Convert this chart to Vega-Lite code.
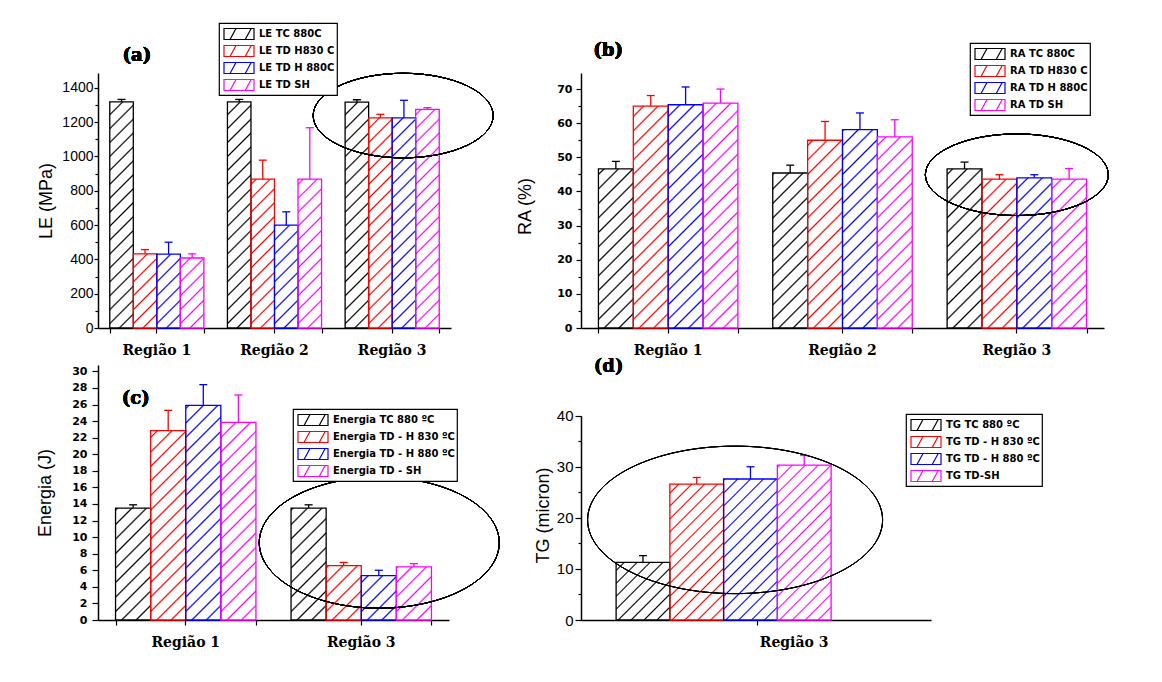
{
"$schema": "https://vega.github.io/schema/vega-lite/v6.json",
"background": "white",
"padding": {"left": 36, "top": 22, "right": 5, "bottom": 5},
"params": [{"name": "hs", "value": [
{"offset":0,"color":"rgba(255,255,255,0)"},{"offset":0.006,"color":"#ffffff"},{"offset":0.044,"color":"#ffffff"},
{"offset":0.05,"color":"rgba(255,255,255,0)"},{"offset":0.056,"color":"#ffffff"},{"offset":0.094,"color":"#ffffff"},
{"offset":0.1,"color":"rgba(255,255,255,0)"},{"offset":0.106,"color":"#ffffff"},{"offset":0.144,"color":"#ffffff"},
{"offset":0.15,"color":"rgba(255,255,255,0)"},{"offset":0.156,"color":"#ffffff"},{"offset":0.194,"color":"#ffffff"},
{"offset":0.2,"color":"rgba(255,255,255,0)"},{"offset":0.206,"color":"#ffffff"},{"offset":0.244,"color":"#ffffff"},
{"offset":0.25,"color":"rgba(255,255,255,0)"},{"offset":0.256,"color":"#ffffff"},{"offset":0.294,"color":"#ffffff"},
{"offset":0.3,"color":"rgba(255,255,255,0)"},{"offset":0.306,"color":"#ffffff"},{"offset":0.344,"color":"#ffffff"},
{"offset":0.35,"color":"rgba(255,255,255,0)"},{"offset":0.356,"color":"#ffffff"},{"offset":0.394,"color":"#ffffff"},
{"offset":0.4,"color":"rgba(255,255,255,0)"},{"offset":0.406,"color":"#ffffff"},{"offset":0.444,"color":"#ffffff"},
{"offset":0.45,"color":"rgba(255,255,255,0)"},{"offset":0.456,"color":"#ffffff"},{"offset":0.494,"color":"#ffffff"},
{"offset":0.5,"color":"rgba(255,255,255,0)"},{"offset":0.506,"color":"#ffffff"},{"offset":0.544,"color":"#ffffff"},
{"offset":0.55,"color":"rgba(255,255,255,0)"},{"offset":0.556,"color":"#ffffff"},{"offset":0.594,"color":"#ffffff"},
{"offset":0.6,"color":"rgba(255,255,255,0)"},{"offset":0.606,"color":"#ffffff"},{"offset":0.644,"color":"#ffffff"},
{"offset":0.65,"color":"rgba(255,255,255,0)"},{"offset":0.656,"color":"#ffffff"},{"offset":0.694,"color":"#ffffff"},
{"offset":0.7,"color":"rgba(255,255,255,0)"},{"offset":0.706,"color":"#ffffff"},{"offset":0.744,"color":"#ffffff"},
{"offset":0.75,"color":"rgba(255,255,255,0)"},{"offset":0.756,"color":"#ffffff"},{"offset":0.794,"color":"#ffffff"},
{"offset":0.8,"color":"rgba(255,255,255,0)"},{"offset":0.806,"color":"#ffffff"},{"offset":0.844,"color":"#ffffff"},
{"offset":0.85,"color":"rgba(255,255,255,0)"},{"offset":0.856,"color":"#ffffff"},{"offset":0.894,"color":"#ffffff"},
{"offset":0.9,"color":"rgba(255,255,255,0)"},{"offset":0.906,"color":"#ffffff"},{"offset":0.944,"color":"#ffffff"},
{"offset":0.95,"color":"rgba(255,255,255,0)"},{"offset":0.956,"color":"#ffffff"},{"offset":0.994,"color":"#ffffff"},
{"offset":1,"color":"rgba(255,255,255,0)"}
]}],
"datasets": {
"a": [
{"r":"Região 1","s":"LE TC 880C","v":1318,"hi":1332},
{"r":"Região 1","s":"LE TD H830 C","v":432,"hi":457},
{"r":"Região 1","s":"LE TD H 880C","v":430,"hi":500},
{"r":"Região 1","s":"LE TD SH","v":408,"hi":432},
{"r":"Região 2","s":"LE TC 880C","v":1318,"hi":1332},
{"r":"Região 2","s":"LE TD H830 C","v":867,"hi":978},
{"r":"Região 2","s":"LE TD H 880C","v":599,"hi":677},
{"r":"Região 2","s":"LE TD SH","v":867,"hi":1167},
{"r":"Região 3","s":"LE TC 880C","v":1316,"hi":1330},
{"r":"Região 3","s":"LE TD H830 C","v":1225,"hi":1245},
{"r":"Região 3","s":"LE TD H 880C","v":1225,"hi":1327},
{"r":"Região 3","s":"LE TD SH","v":1274,"hi":1284}
],
"b": [
{"r":"Região 1","s":"RA TC 880C","v":46.6,"hi":48.8},
{"r":"Região 1","s":"RA TD H830 C","v":65.0,"hi":68.1},
{"r":"Região 1","s":"RA TD H 880C","v":65.4,"hi":70.6},
{"r":"Região 1","s":"RA TD SH","v":65.9,"hi":70.0},
{"r":"Região 2","s":"RA TC 880C","v":45.4,"hi":47.7},
{"r":"Região 2","s":"RA TD H830 C","v":55.0,"hi":60.5},
{"r":"Região 2","s":"RA TD H 880C","v":58.1,"hi":63.0},
{"r":"Região 2","s":"RA TD SH","v":56.0,"hi":61.0},
{"r":"Região 3","s":"RA TC 880C","v":46.6,"hi":48.6},
{"r":"Região 3","s":"RA TD H830 C","v":43.6,"hi":44.9},
{"r":"Região 3","s":"RA TD H 880C","v":44.0,"hi":44.9},
{"r":"Região 3","s":"RA TD SH","v":43.6,"hi":46.7}
],
"c": [
{"r":"Região 1","s":"Energia TC 880 ºC","v":13.5,"hi":13.9},
{"r":"Região 1","s":"Energia TD - H 830 ºC","v":22.85,"hi":25.3},
{"r":"Região 1","s":"Energia TD - H 880 ºC","v":25.9,"hi":28.4},
{"r":"Região 1","s":"Energia TD - SH","v":23.85,"hi":27.15},
{"r":"Região 3","s":"Energia TC 880 ºC","v":13.5,"hi":13.9},
{"r":"Região 3","s":"Energia TD - H 830 ºC","v":6.55,"hi":6.95},
{"r":"Região 3","s":"Energia TD - H 880 ºC","v":5.35,"hi":6.0},
{"r":"Região 3","s":"Energia TD - SH","v":6.4,"hi":6.8}
],
"d": [
{"r":"Região 3","s":"TG TC 880 ºC","v":11.3,"hi":12.6},
{"r":"Região 3","s":"TG TD - H 830 ºC","v":26.6,"hi":27.9},
{"r":"Região 3","s":"TG TD - H 880 ºC","v":27.6,"hi":30.0},
{"r":"Região 3","s":"TG TD-SH","v":30.3,"hi":32.2}
]
},
"config": {
"view": {"stroke": null},
"axis": {"domainColor": "black", "domainWidth": 1.5, "tickColor": "black", "tickWidth": 1.2, "labelColor": "black", "titleColor": "black", "grid": false, "zindex": 1},
"legend": {"title": null, "orient": "none", "symbolSize": 256, "symbolStrokeWidth": 1.2, "symbolFillColor": "white", "symbolType": "M-0.75,-0.69H3V0.69H-0.75Z M0,0.69L0.75,-0.69 M1.9,0.69L2.65,-0.69", "labelFont": "DejaVu Sans", "labelFontSize": 10, "labelFontWeight": "bold", "labelColor": "black", "labelOffset": 20, "labelLimit": 300, "padding": 2, "rowPadding": 0, "strokeColor": "black", "fillColor": "white", "strokeWidth": 1.2}
},
"bounds": "flush",
"columns": 2,
"spacing": {"row": 37, "column": 130},
"resolve": {"scale": {"x": "independent", "y": "independent", "xOffset": "independent", "fill": "independent", "stroke": "independent"}, "legend": {"fill": "independent", "stroke": "independent"}},
"concat": [
 {"width": 353, "height": 255, "data": {"name": "a"},
  "resolve": {"axis": {"x": "independent", "y": "independent"}},
  "layer": [
   {"mark": {"type": "bar"},
    "encoding": {
     "x": {"field": "r", "type": "nominal", "scale": {"type": "band", "paddingInner": 0.2, "paddingOuter": 0.1}, "axis": {"title": null, "labelAngle": 0, "labelFont": "DejaVu Serif", "labelFontWeight": "bold", "labelFontSize": 14, "labelPadding": 10, "tickSize": 5}},
     "xOffset": {"field": "s", "type": "nominal", "sort": null, "scale": {"type": "band", "paddingInner": 0, "paddingOuter": 0, "range": [0, 94.13]}},
     "y": {"field": "v", "type": "quantitative", "scale": {"domain": [0, 1486], "nice": false}, "axis": {"values": [0,200,400,600,800,1000,1200,1400], "format": "d", "title": "LE (MPa)", "titleX": -52, "titleBaseline": "middle", "titleFont": "Liberation Sans", "titleFontSize": 18, "titleFontWeight": "normal", "labelFont": "Liberation Sans", "labelFontSize": 14, "labelPadding": 1, "tickSize": 4}},
     "fill": {"field": "s", "type": "nominal", "sort": null, "scale": {"range": ["#000000","#ff0000","#0000ff","#ff00ff"]}, "legend": null}
    }},
   {"mark": {"type": "bar", "fill": {"expr": "{gradient: 'linear', x1: 0, y1: 0, x2: 0.0998, y2: 1.083, stops: hs}"}},
    "encoding": {
     "x": {"field": "r", "type": "nominal", "axis": null},
     "xOffset": {"field": "s", "type": "nominal", "sort": null},
     "y": {"datum": 1486, "type": "quantitative", "axis": null},
     "y2": {"datum": 0}
    }},
   {"mark": {"type": "bar", "filled": false, "strokeWidth": 1.3},
    "encoding": {
     "x": {"field": "r", "type": "nominal", "axis": null},
     "xOffset": {"field": "s", "type": "nominal", "sort": null},
     "y": {"field": "v", "type": "quantitative", "axis": null},
     "stroke": {"field": "s", "type": "nominal", "scale": {"domain": ["LE TC 880C","LE TD H830 C","LE TD H 880C","LE TD SH"], "range": ["#000000","#ff0000","#0000ff","#ff00ff"]}, "legend": {"legendX": 121, "legendY": -50}}
    }},
   {"mark": {"type": "rule", "strokeWidth": 1.3},
    "encoding": {
     "x": {"field": "r", "type": "nominal", "axis": {"orient": "bottom", "tickBand": "extent", "labels": false, "domain": false, "title": null, "tickSize": 5}},
     "xOffset": {"field": "s", "type": "nominal", "sort": null},
     "y": {"field": "v", "type": "quantitative", "axis": {"orient": "left", "values": [100,300,500,700,900,1100,1300], "labels": false, "domain": false, "title": null, "tickSize": 3}},
     "y2": {"field": "hi"},
     "stroke": {"field": "s", "type": "nominal", "scale": {"domain": ["LE TC 880C","LE TD H830 C","LE TD H 880C","LE TD SH"], "range": ["#000000","#ff0000","#0000ff","#ff00ff"]}}
    }},
   {"mark": {"type": "tick", "orient": "horizontal", "size": 8, "thickness": 1.3, "opacity": 1},
    "encoding": {
     "x": {"field": "r", "type": "nominal", "axis": null},
     "xOffset": {"field": "s", "type": "nominal", "sort": null},
     "y": {"field": "hi", "type": "quantitative", "axis": null},
     "fill": {"field": "s", "type": "nominal", "sort": null, "legend": null}
    }},
   {"mark": {"type": "point", "shape": "M-1,0A1,0.47 0 1,1 1,0A1,0.47 0 1,1 -1,0Z", "size": 32400, "filled": false, "stroke": "black", "strokeWidth": 1, "opacity": 1, "xOffset": 11},
    "encoding": {
     "x": {"datum": "Região 3", "type": "nominal", "axis": null},
     "y": {"datum": 1238, "type": "quantitative", "axis": null}
    }},
   {"mark": {"type": "text", "text": "(a)", "font": "DejaVu Serif", "fontWeight": "bold", "fontSize": 18, "dx": -20, "align": "center", "baseline": "middle", "color": "black"},
    "encoding": {
     "x": {"datum": "Região 1", "type": "nominal", "axis": null},
     "y": {"datum": 1585, "type": "quantitative", "axis": null}
    }}
  ]},
 {"width": 523, "height": 255, "data": {"name": "b"},
  "resolve": {"axis": {"x": "independent", "y": "independent"}},
  "layer": [
   {"mark": {"type": "bar"},
    "encoding": {
     "x": {"field": "r", "type": "nominal", "scale": {"type": "band", "paddingInner": 0.2, "paddingOuter": 0.1}, "axis": {"title": null, "labelAngle": 0, "labelFont": "DejaVu Serif", "labelFontWeight": "bold", "labelFontSize": 14, "labelPadding": 10, "tickSize": 5}},
     "xOffset": {"field": "s", "type": "nominal", "sort": null, "scale": {"type": "band", "paddingInner": 0, "paddingOuter": 0, "range": [0, 139.47]}},
     "y": {"field": "v", "type": "quantitative", "scale": {"domain": [0, 74.7], "nice": false}, "axis": {"values": [0,10,20,30,40,50,60,70], "title": "RA (%)", "titleX": -56, "titleY": 133, "titleBaseline": "middle", "titleFont": "Liberation Sans", "titleFontSize": 18, "titleFontWeight": "normal", "labelFont": "DejaVu Sans", "labelFontWeight": "bold", "labelFontSize": 11, "labelPadding": 4, "tickSize": 5}},
     "fill": {"field": "s", "type": "nominal", "sort": null, "scale": {"range": ["#000000","#ff0000","#0000ff","#ff00ff"]}, "legend": null}
    }},
   {"mark": {"type": "bar", "fill": {"expr": "{gradient: 'linear', x1: 0, y1: 0, x2: 0.1526, y2: 1.1159, stops: hs}"}},
    "encoding": {
     "x": {"field": "r", "type": "nominal", "axis": null},
     "xOffset": {"field": "s", "type": "nominal", "sort": null},
     "y": {"datum": 74.7, "type": "quantitative", "axis": null},
     "y2": {"datum": 0}
    }},
   {"mark": {"type": "bar", "filled": false, "strokeWidth": 1.3},
    "encoding": {
     "x": {"field": "r", "type": "nominal", "axis": null},
     "xOffset": {"field": "s", "type": "nominal", "sort": null},
     "y": {"field": "v", "type": "quantitative", "axis": null},
     "stroke": {"field": "s", "type": "nominal", "scale": {"domain": ["RA TC 880C","RA TD H830 C","RA TD H 880C","RA TD SH"], "range": ["#000000","#ff0000","#0000ff","#ff00ff"]}, "legend": {"legendX": 389, "legendY": -30}}
    }},
   {"mark": {"type": "rule", "strokeWidth": 1.3},
    "encoding": {
     "x": {"field": "r", "type": "nominal", "axis": {"orient": "bottom", "tickBand": "extent", "labels": false, "domain": false, "title": null, "tickSize": 5}},
     "xOffset": {"field": "s", "type": "nominal", "sort": null},
     "y": {"field": "v", "type": "quantitative", "axis": {"orient": "left", "values": [5,15,25,35,45,55,65], "labels": false, "domain": false, "title": null, "tickSize": 3}},
     "y2": {"field": "hi"},
     "stroke": {"field": "s", "type": "nominal", "scale": {"domain": ["RA TC 880C","RA TD H830 C","RA TD H 880C","RA TD SH"], "range": ["#000000","#ff0000","#0000ff","#ff00ff"]}}
    }},
   {"mark": {"type": "tick", "orient": "horizontal", "size": 8, "thickness": 1.3, "opacity": 1},
    "encoding": {
     "x": {"field": "r", "type": "nominal", "axis": null},
     "xOffset": {"field": "s", "type": "nominal", "sort": null},
     "y": {"field": "hi", "type": "quantitative", "axis": null},
     "fill": {"field": "s", "type": "nominal", "sort": null, "legend": null}
    }},
   {"mark": {"type": "point", "shape": "M-1,0A1,0.446 0 1,1 1,0A1,0.446 0 1,1 -1,0Z", "size": 33489, "filled": false, "stroke": "black", "strokeWidth": 1, "opacity": 1},
    "encoding": {
     "x": {"datum": "Região 3", "type": "nominal", "axis": null},
     "y": {"datum": 44.9, "type": "quantitative", "axis": null}
    }},
   {"mark": {"type": "text", "text": "(b)", "font": "DejaVu Serif", "fontWeight": "bold", "fontSize": 18, "dx": -60, "align": "center", "baseline": "middle", "color": "black"},
    "encoding": {
     "x": {"datum": "Região 1", "type": "nominal", "axis": null},
     "y": {"datum": 81, "type": "quantitative", "axis": null}
    }}
  ]},
 {"width": 351, "height": 255, "data": {"name": "c"},
  "resolve": {"axis": {"x": "independent", "y": "independent"}},
  "layer": [
   {"mark": {"type": "bar"},
    "encoding": {
     "x": {"field": "r", "type": "nominal", "scale": {"type": "band", "paddingInner": 0.2, "paddingOuter": 0.1}, "axis": {"title": null, "labelAngle": 0, "labelFont": "DejaVu Serif", "labelFontWeight": "bold", "labelFontSize": 14, "labelPadding": 10, "tickSize": 5}},
     "xOffset": {"field": "s", "type": "nominal", "sort": null, "scale": {"type": "band", "paddingInner": 0, "paddingOuter": 0, "range": [0, 140.4]}},
     "y": {"field": "v", "type": "quantitative", "scale": {"domain": [0, 30.77], "nice": false}, "axis": {"values": [0,2,4,6,8,10,12,14,16,18,20,22,24,26,28,30], "title": "Energia (J)", "titleX": -53, "titleBaseline": "middle", "titleFont": "Liberation Sans", "titleFontSize": 18, "titleFontWeight": "normal", "labelFont": "DejaVu Sans", "labelFontWeight": "bold", "labelFontSize": 11, "labelPadding": 5, "tickSize": 6}},
     "fill": {"field": "s", "type": "nominal", "sort": null, "scale": {"range": ["#000000","#ff0000","#0000ff","#ff00ff"]}, "legend": null}
    }},
   {"mark": {"type": "bar", "fill": {"expr": "{gradient: 'linear', x1: 0, y1: 0, x2: 0.1537, y2: 1.1165, stops: hs}"}},
    "encoding": {
     "x": {"field": "r", "type": "nominal", "axis": null},
     "xOffset": {"field": "s", "type": "nominal", "sort": null},
     "y": {"datum": 30.77, "type": "quantitative", "axis": null},
     "y2": {"datum": 0}
    }},
   {"mark": {"type": "bar", "filled": false, "strokeWidth": 1.3},
    "encoding": {
     "x": {"field": "r", "type": "nominal", "axis": null},
     "xOffset": {"field": "s", "type": "nominal", "sort": null},
     "y": {"field": "v", "type": "quantitative", "axis": null},
     "stroke": {"field": "s", "type": "nominal", "scale": {"domain": ["Energia TC 880 ºC","Energia TD - H 830 ºC","Energia TD - H 880 ºC","Energia TD - SH"], "range": ["#000000","#ff0000","#0000ff","#ff00ff"]}, "legend": {"legendX": 195, "legendY": 44}}
    }},
   {"mark": {"type": "rule", "strokeWidth": 1.3},
    "encoding": {
     "x": {"field": "r", "type": "nominal", "axis": {"orient": "bottom", "tickBand": "extent", "labels": false, "domain": false, "title": null, "tickSize": 5}},
     "xOffset": {"field": "s", "type": "nominal", "sort": null},
     "y": {"field": "v", "type": "quantitative", "axis": null},
     "y2": {"field": "hi"},
     "stroke": {"field": "s", "type": "nominal", "scale": {"domain": ["Energia TC 880 ºC","Energia TD - H 830 ºC","Energia TD - H 880 ºC","Energia TD - SH"], "range": ["#000000","#ff0000","#0000ff","#ff00ff"]}}
    }},
   {"mark": {"type": "tick", "orient": "horizontal", "size": 8, "thickness": 1.3, "opacity": 1},
    "encoding": {
     "x": {"field": "r", "type": "nominal", "axis": null},
     "xOffset": {"field": "s", "type": "nominal", "sort": null},
     "y": {"field": "hi", "type": "quantitative", "axis": null},
     "fill": {"field": "s", "type": "nominal", "sort": null, "legend": null}
    }},
   {"mark": {"type": "point", "shape": "M-1,0A1,0.546 0 1,1 1,0A1,0.546 0 1,1 -1,0Z", "size": 57600, "filled": false, "stroke": "black", "strokeWidth": 1, "opacity": 1, "xOffset": 18},
    "encoding": {
     "x": {"datum": "Região 3", "type": "nominal", "axis": null},
     "y": {"datum": 9.33, "type": "quantitative", "axis": null}
    }},
   {"mark": {"type": "text", "text": "(c)", "font": "DejaVu Serif", "fontWeight": "bold", "fontSize": 18, "dx": -50, "align": "center", "baseline": "middle", "color": "black"},
    "encoding": {
     "x": {"datum": "Região 1", "type": "nominal", "axis": null},
     "y": {"datum": 26.7, "type": "quantitative", "axis": null}
    }}
  ]},
 {"width": 350, "height": 255, "data": {"name": "d"},
  "resolve": {"axis": {"x": "independent", "y": "independent"}},
  "layer": [
   {"mark": {"type": "bar"},
    "encoding": {
     "x": {"field": "r", "type": "nominal", "scale": {"type": "band", "paddingInner": 0, "paddingOuter": 0.314, "align": 0.26}, "axis": {"title": null, "labelAngle": 0, "labelFont": "DejaVu Serif", "labelFontWeight": "bold", "labelFontSize": 14, "labelPadding": 10, "tickSize": 5, "tickOffset": 33, "labelOffset": 37}},
     "xOffset": {"field": "s", "type": "nominal", "sort": null, "scale": {"type": "band", "paddingInner": 0, "paddingOuter": 0, "range": [0, 215]}},
     "y": {"field": "v", "type": "quantitative", "scale": {"domain": [0, 49.92], "nice": false}, "axis": {"values": [0,10,20,30,40], "domainDash": [204.3, 1000], "title": "TG (micron)", "titleX": -38, "titleY": 150, "titleBaseline": "middle", "titleFont": "Liberation Sans", "titleFontSize": 18, "titleFontWeight": "normal", "labelFont": "Liberation Sans", "labelFontSize": 15, "labelPadding": 2, "tickSize": 6}},
     "fill": {"field": "s", "type": "nominal", "sort": null, "scale": {"range": ["#000000","#ff0000","#0000ff","#ff00ff"]}, "legend": null}
    }},
   {"mark": {"type": "bar", "fill": {"expr": "{gradient: 'linear', x1: 0, y1: 0, x2: 0.3108, y2: 1.1813, stops: hs}"}},
    "encoding": {
     "x": {"field": "r", "type": "nominal", "axis": null},
     "xOffset": {"field": "s", "type": "nominal", "sort": null},
     "y": {"datum": 40, "type": "quantitative", "axis": null},
     "y2": {"datum": 0}
    }},
   {"mark": {"type": "bar", "filled": false, "strokeWidth": 1.3},
    "encoding": {
     "x": {"field": "r", "type": "nominal", "axis": null},
     "xOffset": {"field": "s", "type": "nominal", "sort": null},
     "y": {"field": "v", "type": "quantitative", "axis": null},
     "stroke": {"field": "s", "type": "nominal", "scale": {"domain": ["TG TC 880 ºC","TG TD - H 830 ºC","TG TD - H 880 ºC","TG TD-SH"], "range": ["#000000","#ff0000","#0000ff","#ff00ff"]}, "legend": {"legendX": 325, "legendY": 49}}
    }},
   {"mark": {"type": "rule", "strokeWidth": 1.3},
    "encoding": {
     "x": {"field": "r", "type": "nominal", "axis": null},
     "xOffset": {"field": "s", "type": "nominal", "sort": null},
     "y": {"field": "v", "type": "quantitative", "axis": {"orient": "left", "values": [5,15,25,35], "labels": false, "domain": false, "title": null, "tickSize": 3}},
     "y2": {"field": "hi"},
     "stroke": {"field": "s", "type": "nominal", "scale": {"domain": ["TG TC 880 ºC","TG TD - H 830 ºC","TG TD - H 880 ºC","TG TD-SH"], "range": ["#000000","#ff0000","#0000ff","#ff00ff"]}}
    }},
   {"mark": {"type": "tick", "orient": "horizontal", "size": 8, "thickness": 1.3, "opacity": 1},
    "encoding": {
     "x": {"field": "r", "type": "nominal", "axis": null},
     "xOffset": {"field": "s", "type": "nominal", "sort": null},
     "y": {"field": "hi", "type": "quantitative", "axis": null},
     "fill": {"field": "s", "type": "nominal", "sort": null, "legend": null}
    }},
   {"mark": {"type": "point", "shape": "M-1,0A1,0.5 0 1,1 1,0A1,0.5 0 1,1 -1,0Z", "size": 87025, "filled": false, "stroke": "black", "strokeWidth": 1, "opacity": 1, "xOffset": 11.5},
    "encoding": {
     "x": {"datum": "Região 3", "type": "nominal", "axis": null},
     "y": {"datum": 19.6, "type": "quantitative", "axis": null}
    }},
   {"mark": {"type": "text", "text": "(d)", "font": "DejaVu Serif", "fontWeight": "bold", "fontSize": 18, "dx": -115, "align": "center", "baseline": "middle", "color": "black"},
    "encoding": {
     "x": {"datum": "Região 3", "type": "nominal", "axis": null},
     "y": {"datum": 49.6, "type": "quantitative", "axis": null}
    }}
  ]}
]
}
